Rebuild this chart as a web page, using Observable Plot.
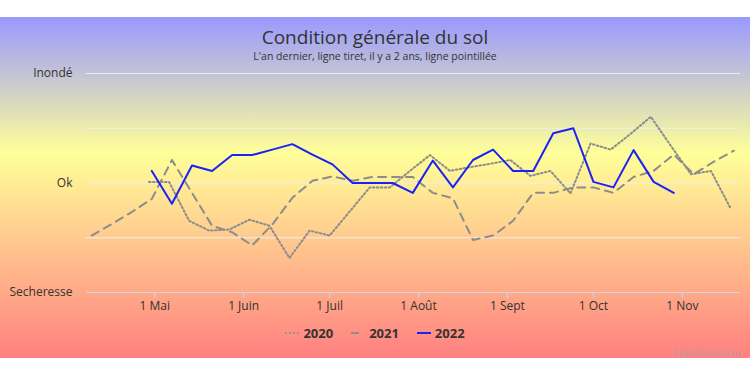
<!DOCTYPE html>
<html>
<head>
<meta charset="utf-8">
<script src="https://cdn.jsdelivr.net/npm/d3@7"></script>
<script src="https://cdn.jsdelivr.net/npm/@observablehq/plot@0.6"></script>
<style>
  html, body { margin: 0; padding: 0; background: #fff; }
  #wrap { position: relative; width: 750px; height: 373px; background: #fff; overflow: hidden; font-family: "Open Sans", sans-serif; }
  #bg { position: absolute; left: 0; top: 17px; width: 750px; height: 341px;
        background: linear-gradient(to bottom, #9999ff 0%, #ffff99 40%, #ff8080 100%); }
  #title { position: absolute; left: 0; top: 27px; width: 750px; text-align: center; font-size: 19px; line-height: 20px; color: #333; }
  #subtitle { position: absolute; left: 0; top: 51px; width: 750px; text-align: center; font-size: 10.5px; line-height: 11px; color: #333; }
  #chart { position: absolute; left: 0; top: 62px; }
  #legend { position: absolute; left: 0; top: 325px; width: 750px; display: flex; justify-content: center; gap: 18px; font-size: 13px; font-weight: bold; color: #333; line-height: 16px; }
  .item { display: flex; align-items: center; gap: 4px; }
  #credit { position: absolute; right: 10px; top: 346px; font-size: 9px; color: #b0a0a0; }
</style>
</head>
<body>
<div id="wrap">
  <div id="bg"></div>
  <div id="title">Condition générale du sol</div>
  <div id="subtitle">L'an dernier, ligne tiret, il y a 2 ans, ligne pointillée</div>
  <div id="chart"></div>
  <div id="legend"></div>
  <div id="credit">Highcharts.com</div>
</div>
<script>
// ---- data ----
const seriesNames = ["2020", "2021", "2022"];

const dates2020 = ["04-29","05-06","05-13","05-20","05-27","06-03","06-10","06-17","06-24","07-01","07-08","07-15","07-22","07-29","08-05","08-12","08-19","08-26","09-02","09-09","09-16","09-23","09-30","10-07","10-14","10-21","10-28","11-04","11-11","11-18"];
const values2020 = [0.02,0.02,-0.69,-0.87,-0.85,-0.67,-0.78,-1.37,-0.87,-0.96,-0.52,-0.08,-0.08,0.22,0.51,0.22,0.29,0.35,0.42,0.13,0.22,-0.19,0.72,0.61,0.9,1.21,0.68,0.16,0.22,-0.48];

const dates2021 = ["04-09","04-16","04-23","04-30","05-07","05-14","05-21","05-28","06-04","06-11","06-18","06-25","07-02","07-09","07-16","07-23","07-30","08-06","08-13","08-20","08-27","09-03","09-10","09-17","09-24","10-01","10-08","10-15","10-22","10-29","11-05","11-12","11-19"];
const values2021 = [-0.96,-0.75,-0.53,-0.29,0.42,-0.18,-0.78,-0.9,-1.14,-0.76,-0.27,0.04,0.12,0.04,0.11,0.11,0.11,-0.18,-0.28,-1.04,-0.96,-0.69,-0.18,-0.18,-0.08,-0.08,-0.18,0.11,0.22,0.52,0.16,0.39,0.59];

const dates2022 = ["04-30","05-07","05-14","05-21","05-28","06-04","06-11","06-18","06-25","07-02","07-09","07-16","07-23","07-30","08-06","08-13","08-20","08-27","09-03","09-10","09-17","09-24","10-01","10-08","10-15","10-22","10-29"];
const values2022 = [0.22,-0.38,0.32,0.22,0.51,0.51,0.61,0.71,0.52,0.34,0,0,0,-0.18,0.41,-0.08,0.42,0.61,0.22,0.22,0.91,1.0,0.02,-0.08,0.6,0.02,-0.18];

const xTickDates = ["05-01","06-01","07-01","08-01","09-01","10-01","11-01"];
const xTickLabels = ["1 Mai","1 Juin","1 Juil","1 Août","1 Sept","1 Oct","1 Nov"];
const yTicks = [-2, -1, 0, 1, 2];
const yTickLabels = ["Secheresse", "", "Ok", "", "Inondé"];

// ---- build ----
const toDate = s => new Date("2022-" + s + "T00:00:00Z");
const build = (ds, vs) => ds.map((d, i) => ({date: toDate(d), value: vs[i]}));
const d2020 = build(dates2020, values2020);
const d2021 = build(dates2021, values2021);
const d2022 = build(dates2022, values2022);

const xTicks = xTickDates.map(toDate);
const xLabelMap = new Map(xTicks.map((d, i) => [+d, xTickLabels[i]]));
const yLabelMap = new Map(yTicks.map((v, i) => [v, yTickLabels[i]]));

const styles = {
  "2020": {stroke: "#8c8c8c", strokeWidth: 2, strokeDasharray: "1.6,2.4"},
  "2021": {stroke: "#8c8c8c", strokeWidth: 2, strokeDasharray: "8,6"},
  "2022": {stroke: "#1a22f5", strokeWidth: 2}
};

const chart = Plot.plot({
  width: 750,
  height: 254,
  marginTop: 11,
  marginBottom: 24,
  marginLeft: 86,
  marginRight: 10,
  style: {background: "transparent", fontFamily: "Open Sans, sans-serif", fontSize: "12px", color: "#333", overflow: "visible"},
  x: {type: "utc", domain: [new Date("2022-04-07T05:00:00Z"), new Date("2022-11-21T07:00:00Z")], label: null},
  y: {domain: [-2, 2], label: null},
  marks: [
    Plot.gridY(yTicks, {stroke: "#eeeeee", strokeOpacity: 1, strokeWidth: 1}),
    Plot.ruleY([-2], {stroke: "#ccd6eb", strokeWidth: 1}),
    Plot.axisY(yTicks, {tickSize: 0, tickPadding: 14, label: null, tickFormat: v => yLabelMap.get(v), fontSize: 12, fill: "#333"}),
    Plot.axisX(xTicks, {tickSize: 6, tickPadding: 3, label: null, stroke: "#ccd6eb", tickFormat: d => xLabelMap.get(+d), fontSize: 12, fill: "#333"}),
    Plot.line(d2020, {x: "date", y: "value", ...styles["2020"]}),
    Plot.line(d2021, {x: "date", y: "value", ...styles["2021"]}),
    Plot.line(d2022, {x: "date", y: "value", ...styles["2022"]})
  ]
});
document.getElementById("chart").appendChild(chart);

// legend
const legend = document.getElementById("legend");
for (const name of seriesNames) {
  const s = styles[name];
  const item = document.createElement("div");
  item.className = "item";
  const svg = d3.create("svg").attr("width", 14).attr("height", 10);
  svg.append("line").attr("x1", 0).attr("x2", 14).attr("y1", 5).attr("y2", 5)
    .attr("stroke", s.stroke).attr("stroke-width", s.strokeWidth)
    .attr("stroke-dasharray", s.strokeDasharray || null);
  item.appendChild(svg.node());
  const span = document.createElement("span");
  span.textContent = name;
  item.appendChild(span);
  legend.appendChild(item);
}
</script>
</body>
</html>
